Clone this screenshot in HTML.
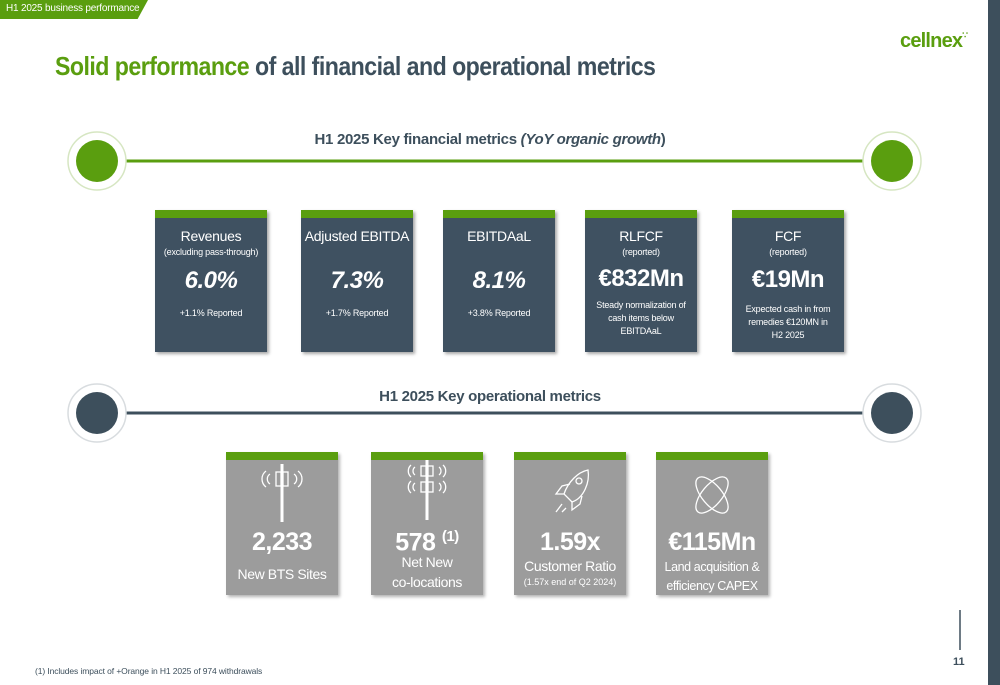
<!DOCTYPE html>
<html><head><meta charset="utf-8"><style>
*{margin:0;padding:0;box-sizing:border-box}
body{width:1000px;height:685px;position:relative;overflow:hidden;background:#fff;font-family:"Liberation Sans",sans-serif;color:#3d4f5c}
.abs{position:absolute}
.fbox{position:absolute;top:210px;width:112px;height:142px;background:#3f5161;color:#fff;text-align:center;box-shadow:2px 2px 3px rgba(0,0,0,.35);border-top:8px solid #5a9e0f}
.obox{position:absolute;top:452px;width:112px;height:143px;background:#9c9c9c;color:#fff;text-align:center;box-shadow:2px 2px 3px rgba(0,0,0,.3);border-top:8px solid #5a9e0f}
.t1{font-size:14px;margin-top:10px;letter-spacing:-.3px}
.t2{font-size:9px;margin-top:3px;letter-spacing:-.2px}
.big{font-size:24px;font-weight:bold;font-style:italic;letter-spacing:-.5px}
.big2{font-size:24px;font-weight:bold;letter-spacing:-.5px}
.sm{font-size:9px;line-height:13px;letter-spacing:-.2px}
.obig{font-size:25px;font-weight:bold;letter-spacing:-.5px;position:absolute;left:0;right:0;top:68px}
.olab{position:absolute;left:0;right:0;font-size:14px;line-height:20px;letter-spacing:-.4px}
</style></head><body>
<div class="abs" style="left:0;top:0;width:148px;height:19px;background:#5a9e0f;clip-path:polygon(0 0,100% 0,93% 100%,0 100%);color:#fff;font-size:10px;padding:3px 0 0 6px;letter-spacing:-.2px">H1 2025 business performance</div>
<div class="abs" style="left:900px;top:30px;font-size:20px;font-weight:bold;color:#5a9e0f;letter-spacing:-.8px">cellnex<span style="font-size:9px;vertical-align:top">&#8757;</span></div>
<div class="abs" style="left:988px;top:0;width:12px;height:685px;background:#3d4f5c"></div>
<div class="abs" style="left:55px;top:51px;font-size:26px;font-weight:bold;letter-spacing:-.6px;color:#3d4f5c;transform:scaleX(0.89);transform-origin:left top;white-space:nowrap"><span style="color:#5a9e0f">Solid performance</span> of all financial and operational metrics</div>

<svg class="abs" style="left:0;top:0" width="1000" height="685">
<line x1="120" y1="161" x2="868" y2="161" stroke="#5a9e0f" stroke-width="3"/>
<circle cx="97" cy="161" r="29" fill="#fff" stroke="#d6e6c2" stroke-width="1.5"/>
<circle cx="97" cy="161" r="21" fill="#5a9e0f"/>
<circle cx="892" cy="161" r="29" fill="#fff" stroke="#d6e6c2" stroke-width="1.5"/>
<circle cx="892" cy="161" r="21" fill="#5a9e0f"/>
<line x1="120" y1="413" x2="868" y2="413" stroke="#3d4f5c" stroke-width="3"/>
<circle cx="97" cy="413" r="29" fill="#fff" stroke="#d8dcdf" stroke-width="1.5"/>
<circle cx="97" cy="413" r="21" fill="#3d4f5c"/>
<circle cx="892" cy="413" r="29" fill="#fff" stroke="#d8dcdf" stroke-width="1.5"/>
<circle cx="892" cy="413" r="21" fill="#3d4f5c"/>
<line x1="960" y1="610" x2="960" y2="650" stroke="#3d4f5c" stroke-width="1.5"/>
</svg>

<div class="abs" style="left:240px;width:500px;top:131px;text-align:center;font-size:15px;font-weight:bold;letter-spacing:-.3px">H1 2025 Key financial metrics <i>(YoY organic growth</i>)</div>
<div class="abs" style="left:240px;width:500px;top:388px;text-align:center;font-size:15px;font-weight:bold;letter-spacing:-.3px">H1 2025 Key operational metrics</div>

<div class="fbox" style="left:155px"><div class="t1">Revenues</div><div class="t2">(excluding pass-through)</div><div class="big" style="margin-top:10px">6.0%</div><div class="sm" style="margin-top:12px">+1.1% Reported</div></div>
<div class="fbox" style="left:301px"><div class="t1">Adjusted EBITDA</div><div class="t2">&nbsp;</div><div class="big" style="margin-top:10px">7.3%</div><div class="sm" style="margin-top:12px">+1.7% Reported</div></div>
<div class="fbox" style="left:443px"><div class="t1">EBITDAaL</div><div class="t2">&nbsp;</div><div class="big" style="margin-top:10px">8.1%</div><div class="sm" style="margin-top:12px">+3.8% Reported</div></div>
<div class="fbox" style="left:585px"><div class="t1">RLFCF</div><div class="t2">(reported)</div><div class="big2" style="margin-top:8px">€832Mn</div><div class="sm" style="margin-top:6px">Steady normalization of<br>cash items below<br>EBITDAaL</div></div>
<div class="fbox" style="left:732px"><div class="t1">FCF</div><div class="t2">(reported)</div><div class="big2" style="margin-top:9px">€19Mn</div><div class="sm" style="margin-top:9px">Expected cash in from<br>remedies €120MN in<br>H2 2025</div></div>

<div class="obox" style="left:226px">
<svg class="abs" style="left:34px;top:4px" width="44" height="60"><g stroke="#fff" fill="none" stroke-width="1.3"><line x1="22" y1="0" x2="22" y2="58" stroke-width="3"/><rect x="16" y="8" width="5" height="14"/><rect x="23" y="8" width="5" height="14"/><path d="M10 10a6 6 0 0 0 0 10M6 7a10 10 0 0 0 0 16M34 10a6 6 0 0 1 0 10M38 7a10 10 0 0 1 0 16"/></g></svg>
<div class="obig">2,233</div><div class="olab" style="top:104px">New BTS Sites</div></div>
<div class="obox" style="left:371px">
<svg class="abs" style="left:34px;top:0px" width="44" height="60"><g stroke="#fff" fill="none" stroke-width="1.3"><line x1="22" y1="0" x2="22" y2="60" stroke-width="3"/><rect x="16" y="6" width="5" height="10"/><rect x="23" y="6" width="5" height="10"/><rect x="16" y="22" width="5" height="10"/><rect x="23" y="22" width="5" height="10"/><path d="M10 7a5 5 0 0 0 0 8M6 5a8 8 0 0 0 0 12M34 7a5 5 0 0 1 0 8M38 5a8 8 0 0 1 0 12M10 23a5 5 0 0 0 0 8M6 21a8 8 0 0 0 0 12M34 23a5 5 0 0 1 0 8M38 21a8 8 0 0 1 0 12"/></g></svg>
<div class="obig">578 <sup style="font-size:15px">(1)</sup></div><div class="olab" style="top:92px">Net New<br>co-locations</div></div>
<div class="obox" style="left:514px">
<svg class="abs" style="left:36px;top:8px" width="42" height="50"><g stroke="#fff" fill="none" stroke-width="1.3"><path d="M38 2C28 4 18 14 14 26l8 8C34 30 40 14 38 2z"/><circle cx="29" cy="13" r="3"/><path d="M14 26l-8 0 6-8 8-2M22 34l0 8 8-6 2-8M12 36l-6 8M16 40l-4 4"/></g></svg>
<div class="obig">1.59x</div><div class="olab" style="top:96px">Customer Ratio</div><div class="abs" style="left:0;right:0;top:117px;font-size:9px">(1.57x end of Q2 2024)</div></div>
<div class="obox" style="left:656px">
<svg class="abs" style="left:35px;top:10px" width="42" height="50"><g stroke="#fff" fill="none" stroke-width="1.3"><ellipse cx="21" cy="25" rx="10" ry="22" transform="rotate(-40 21 25)"/><ellipse cx="21" cy="25" rx="10" ry="22" transform="rotate(40 21 25)"/></g></svg>
<div class="obig">€115Mn</div><div class="olab" style="top:98px;font-size:12.5px;line-height:19px">Land acquisition &amp;<br>efficiency CAPEX</div></div>

<div class="abs" style="left:35px;top:666px;font-size:8.5px;letter-spacing:-.1px">(1) Includes impact of +Orange in H1 2025 of 974 withdrawals</div>
<div class="abs" style="left:953px;top:656px;font-size:11px;font-weight:bold">11</div>
</body></html>
